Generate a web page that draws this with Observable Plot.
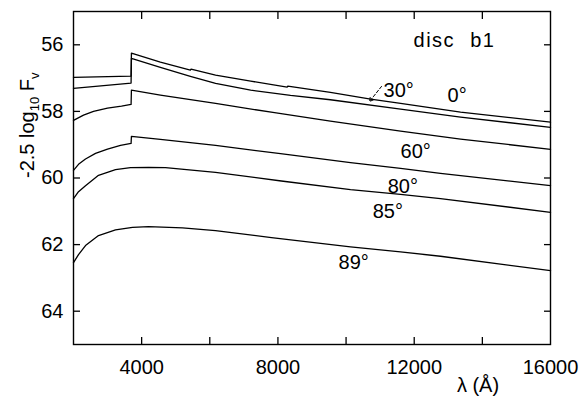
<!DOCTYPE html>
<html><head><meta charset="utf-8">
<script src="https://cdn.jsdelivr.net/npm/d3@7"></script>
<script src="https://cdn.jsdelivr.net/npm/@observablehq/plot@0.6"></script>
<style>
body{margin:0;background:#fff}
#chart svg{font-family:"Liberation Sans",Arial,sans-serif}
g[aria-description="disc label"] text{letter-spacing:1.5px;word-spacing:8px}
</style></head><body><div id="chart"></div>
<script>
// ---- data (wavelength in Å, magnitude -2.5 log10 Fv) ----
const lam30 = [2000, 3690, 3700, 4550, 5430, 5450, 6170, 7200, 8270, 8290, 9540, 10720, 11600, 13360, 16000];
const mag30 = [56.98, 56.94, 56.25, 56.52, 56.76, 56.73, 56.91, 57.09, 57.27, 57.24, 57.43, 57.63, 57.76, 58.02, 58.32];

const lam0 = [2000, 3690, 3700, 4550, 5430, 6170, 7200, 8370, 9540, 11600, 13360, 16000];
const mag0 = [57.31, 57.15, 56.41, 56.68, 56.95, 57.16, 57.36, 57.52, 57.65, 57.93, 58.17, 58.48];

const lam60 = [2000, 2294, 2587, 2998, 3409, 3690, 3700, 4550, 6170, 7900, 9540, 11600, 13360, 16000];
const mag60 = [58.27, 58.11, 58.00, 57.90, 57.84, 57.79, 57.36, 57.51, 57.76, 58.04, 58.29, 58.59, 58.83, 59.14];

const lam80 = [2000, 2147, 2352, 2646, 2998, 3379, 3690, 3700, 4550, 6170, 8075, 10130, 11600, 12770, 16000];
const mag80 = [59.77, 59.59, 59.43, 59.26, 59.13, 59.02, 58.96, 58.75, 58.84, 59.02, 59.27, 59.54, 59.71, 59.86, 60.23];

const lam85 = [2000, 2147, 2352, 2734, 3233, 3673, 4201, 4700, 6168, 8100, 10130, 11597, 12771, 16000];
const mag85 = [60.62, 60.41, 60.23, 59.92, 59.75, 59.69, 59.68, 59.69, 59.83, 60.09, 60.35, 60.49, 60.62, 61.03];

const lam89 = [2000, 2147, 2352, 2734, 3233, 3732, 4201, 5199, 6168, 7811, 10130, 11597, 12771, 16000];
const mag89 = [62.54, 62.30, 62.03, 61.73, 61.56, 61.48, 61.46, 61.50, 61.58, 61.79, 62.07, 62.22, 62.35, 62.78];

const seriesNames = ["30°", "0°", "60°", "80°", "85°", "89°"];
const seriesLam = [lam30, lam0, lam60, lam80, lam85, lam89];
const seriesMag = [mag30, mag0, mag60, mag80, mag85, mag89];

// curve labels (position in data units)
const labelText = ["30°", "0°", "60°", "80°", "85°", "89°"];
const labelLam = [11100, 12980, 11600, 11220, 10780, 9780];
const labelMag = [57.58, 57.73, 59.41, 60.44, 61.19, 62.72];

// dashed pointer from "30°" label to its curve
const arrowFrom = [11040, 57.25];
const arrowTo = [10690, 57.70];

const panelTitle = "disc b1";
const panelTitleLam = 11980;
const panelTitleMag = 56.08;

const xMinorTicks = [4000, 6000, 8000, 10000, 12000, 14000];
const xTickLabels = [4000, 8000, 12000, 16000];
const yTicks = [56, 58, 60, 62, 64];
const xTitle = "λ (Å)";
const yTitle = "-2.5 log10 Fv";

// ---- build table ----
const rows = seriesNames.flatMap((name, s) =>
  seriesLam[s].map((l, i) => ({series: name, lam: l, mag: seriesMag[s][i]})));
const labels = labelText.map((t, i) => ({t, lam: labelLam[i], mag: labelMag[i]}));
const arrows = [{x1: arrowFrom[0], y1: arrowFrom[1], x2: arrowTo[0], y2: arrowTo[1]}];

const plot = Plot.plot({
  width: 582, height: 398,
  marginLeft: 73, marginRight: 32, marginTop: 11, marginBottom: 54,
  style: {fontSize: "20px", fontFamily: "'Liberation Sans', Arial, sans-serif", color: "black", background: "white", overflow: "visible"},
  x: {domain: [2000, 16000]},
  y: {domain: [55, 65], reverse: true},
  marks: [
    Plot.frame({stroke: "black", strokeWidth: 1.4}),
    Plot.axisX(xMinorTicks, {anchor: "bottom", tickSize: -7, tickFormat: () => "", label: null, strokeWidth: 1.3}),
    Plot.axisX(xMinorTicks, {anchor: "top", tickSize: -7, tickFormat: () => "", label: null, strokeWidth: 1.3}),
    Plot.axisX(xTickLabels, {anchor: "bottom", tickSize: 0, tickPadding: 15, label: null, tickFormat: d => String(d)}),
    Plot.axisY(yTicks, {anchor: "left", tickSize: -7, tickPadding: 17, label: null, strokeWidth: 1.3}),
    Plot.axisY(yTicks, {anchor: "right", tickSize: -7, tickFormat: () => "", label: null, strokeWidth: 1.3}),
    Plot.line(rows, {x: "lam", y: "mag", z: "series", stroke: "black", strokeWidth: 1.3}),
    Plot.text(labels, {x: "lam", y: "mag", text: "t", textAnchor: "start", lineAnchor: "bottom", fontSize: 20}),
    Plot.arrow(arrows, {x1: "x1", y1: "y1", x2: "x2", y2: "y2", stroke: "black", strokeWidth: 1, strokeDasharray: "3,2", headLength: 6}),
    Plot.text([panelTitle], {x: () => panelTitleLam, y: () => panelTitleMag, text: d => d, textAnchor: "start", lineAnchor: "bottom", fontSize: 20, ariaDescription: "disc label"}),
    Plot.text([xTitle], {frameAnchor: "bottom", text: d => d, dx: 166, dy: 47, lineAnchor: "bottom", fontSize: 20}),
    Plot.text([yTitle], {frameAnchor: "left", text: d => d, dx: -46, rotate: -90, fontSize: 20, ariaDescription: "y title"})
  ]
});
document.getElementById("chart").appendChild(plot);

// subscripts in the y title
const yt = plot.querySelector('g[aria-description="y title"] text');
if (yt) {
  yt.textContent = "";
  const parts = [["-2.5 log", 0, null], ["10", 5, 13], [" F", -5, null], ["v", 5, 13]];
  for (const [s, dy, fs] of parts) {
    const ts = document.createElementNS("http://www.w3.org/2000/svg", "tspan");
    ts.textContent = s;
    if (dy) ts.setAttribute("dy", dy);
    if (fs) ts.setAttribute("font-size", fs);
    yt.appendChild(ts);
  }
}
</script></body></html>
